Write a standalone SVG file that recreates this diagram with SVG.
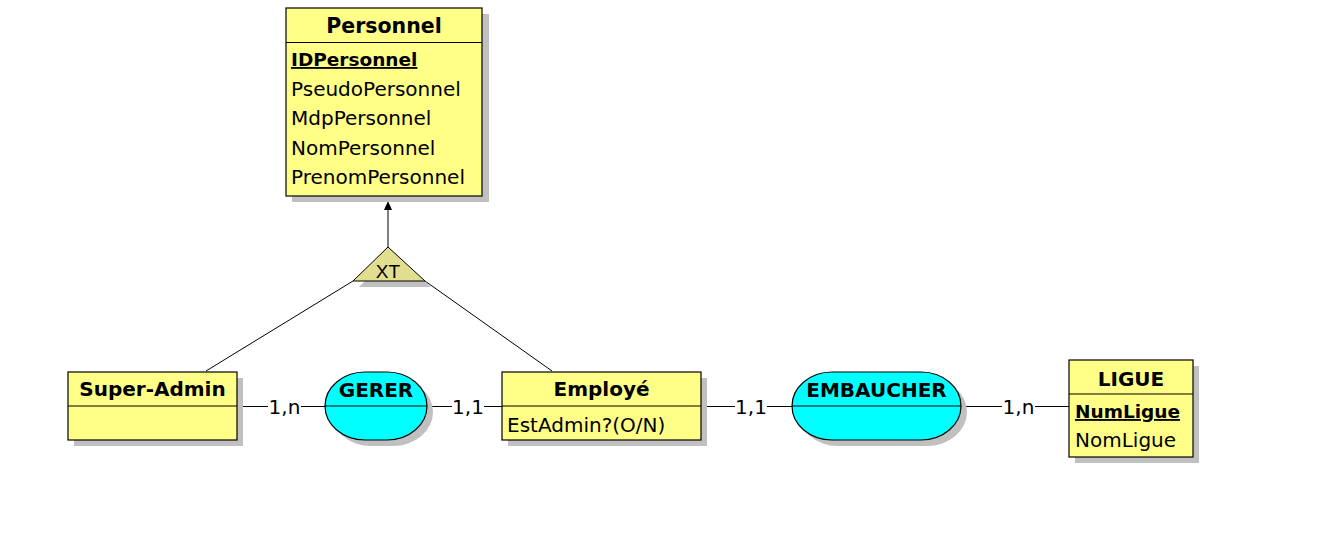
<svg xmlns="http://www.w3.org/2000/svg" width="1342" height="552" viewBox="0 0 1342 552">
<defs>
<style>
.sh{fill:#c0c0c0;stroke:none}
.ent{fill:#ffff88;stroke:#000;stroke-width:1.2}
.rel{fill:#00ffff;stroke:#000;stroke-width:1.2}
.div{stroke:#000;stroke-width:1.2}
.ln{stroke:#000;stroke-width:1;fill:none}
text{font-family:"DejaVu Sans","Liberation Sans",sans-serif;fill:#000}
.h{font-size:20px;font-weight:bold;text-anchor:middle}
.a{font-size:20px}
.k{font-size:18.5px;font-weight:bold;text-decoration:underline}
.c{font-size:20px;text-anchor:middle}
.bg{fill:#fff}
</style>
</defs>
<rect width="1342" height="552" fill="#fff"/>
<g id="connectors">
<line class="ln" x1="388" y1="247" x2="388" y2="208"/>
<polygon points="388,201 384,210 392,210" fill="#000"/>
<line class="ln" x1="353" y1="281" x2="206" y2="371"/>
<line class="ln" x1="425" y1="281" x2="552" y2="371"/>
<line class="ln" x1="237" y1="406.5" x2="325" y2="406.5"/>
<rect class="bg" x="268" y="394" width="33" height="24"/>
<text class="c" x="284.5" y="414">1,n</text>
<line class="ln" x1="427" y1="406.5" x2="502" y2="406.5"/>
<rect class="bg" x="452" y="394" width="32" height="24"/>
<text class="c" x="468" y="414">1,1</text>
<line class="ln" x1="701" y1="406.5" x2="792" y2="406.5"/>
<rect class="bg" x="735" y="394" width="32" height="24"/>
<text class="c" x="751" y="414">1,1</text>
<line class="ln" x1="961" y1="406.5" x2="1069" y2="406.5"/>
<rect class="bg" x="1002" y="394" width="33" height="24"/>
<text class="c" x="1018.5" y="414">1,n</text>
</g>
<g id="xt">
<polygon class="sh" points="394,252 359,287 431,287"/>
<polygon points="388,247 353,281 425,281" fill="#e2de90" stroke="#000" stroke-width="1"/>
<text x="388" y="278" font-size="19px" text-anchor="middle" style="font-family:'Liberation Sans',sans-serif">XT</text>
</g>
<g id="personnel">
<rect class="sh" x="292" y="14" width="197" height="188"/>
<rect class="ent" x="286" y="8" width="196" height="188"/>
<line class="div" x1="286" y1="42.5" x2="482" y2="42.5"/>
<text class="h" x="384" y="33" style="font-size:20.5px">Personnel</text>
<text class="k" x="291" y="66">IDPersonnel</text>
<text class="a" x="291" y="95.5">PseudoPersonnel</text>
<text class="a" x="291" y="125">MdpPersonnel</text>
<text class="a" x="291" y="154.5">NomPersonnel</text>
<text class="a" x="291" y="184">PrenomPersonnel</text>
</g>
<g id="superadmin">
<rect class="sh" x="74" y="378" width="169" height="68"/>
<rect class="ent" x="68" y="372" width="169" height="68"/>
<line class="div" x1="68" y1="406" x2="237" y2="406"/>
<text class="h" x="152.5" y="396">Super-Admin</text>
</g>
<g id="gerer">
<rect class="sh" x="331" y="378" width="102" height="68" rx="40" ry="34"/>
<rect class="rel" x="325" y="372" width="102" height="68" rx="40" ry="34"/>
<line class="div" x1="325" y1="406" x2="427" y2="406"/>
<text class="h" x="376" y="397">GERER</text>
</g>
<g id="employe">
<rect class="sh" x="508" y="378" width="199" height="68"/>
<rect class="ent" x="502" y="372" width="199" height="68"/>
<line class="div" x1="502" y1="406" x2="701" y2="406"/>
<text class="h" x="601.5" y="396">Employé</text>
<text class="a" x="507" y="432">EstAdmin?(O/N)</text>
</g>
<g id="embaucher">
<rect class="sh" x="798" y="378" width="169" height="68" rx="40" ry="34"/>
<rect class="rel" x="792" y="372" width="169" height="68" rx="40" ry="34"/>
<line class="div" x1="792" y1="406" x2="961" y2="406"/>
<text class="h" x="876.5" y="397">EMBAUCHER</text>
</g>
<g id="ligue">
<rect class="sh" x="1075" y="366" width="124" height="97"/>
<rect class="ent" x="1069" y="360" width="124" height="97"/>
<line class="div" x1="1069" y1="394" x2="1193" y2="394"/>
<text class="h" x="1131" y="386">LIGUE</text>
<text class="k" x="1075" y="418">NumLigue</text>
<text class="a" x="1075" y="447">NomLigue</text>
</g>
</svg>
